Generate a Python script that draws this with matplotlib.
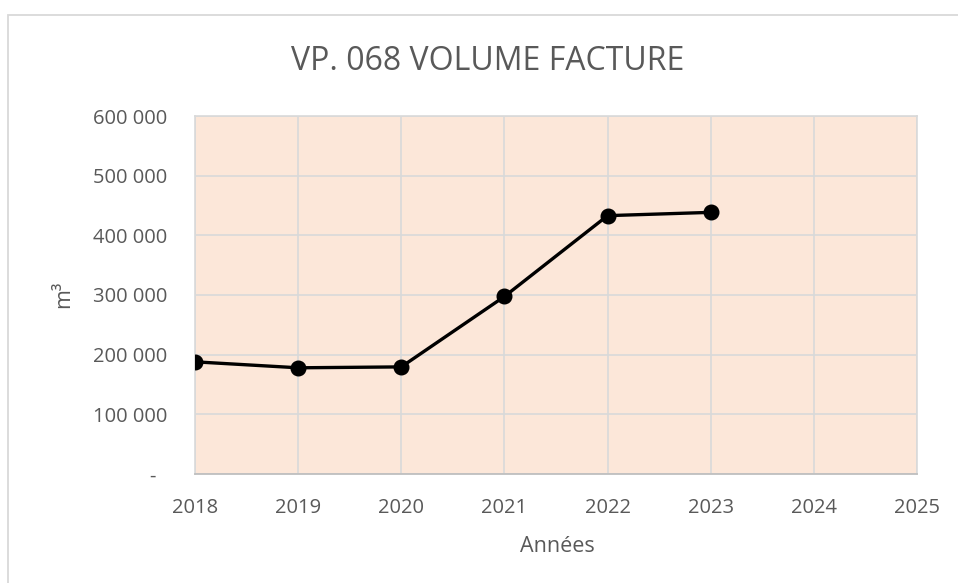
import matplotlib
matplotlib.use("Agg")
import matplotlib.pyplot as plt
from matplotlib.patches import Rectangle
from matplotlib.ticker import FuncFormatter, MultipleLocator
from matplotlib.transforms import ScaledTranslation

annees = [2018, 2019, 2020, 2021, 2022, 2023]
volumes = [188000, 178000, 179500, 297500, 433000, 438500]
x_ticks = [2018, 2019, 2020, 2021, 2022, 2023, 2024, 2025]

plt.rcParams['font.family'] = ['Open Sans', 'DejaVu Sans']
gris_texte = '#595959'
gris_grille = '#D9D9D9'

fig = plt.figure(figsize=(9.58, 5.83), dpi=100)
W, H = 958, 583

# cadre du graphique (coupé à droite et en bas)
fig.patches.append(Rectangle((8 / W, -0.1), 1.2, 1 - 15 / H + 0.1,
                             transform=fig.transFigure, fill=False,
                             edgecolor=gris_grille, linewidth=1.3))

ax = fig.add_axes([195 / W, 1 - 474 / H, (917 - 195) / W, (474 - 116) / H])
ax.set_facecolor('#FCE7D9')

ax.plot(annees, volumes, color='black', linewidth=2.4, marker='o',
        markersize=10.5, zorder=3)

ax.set_xlim(2018, 2025)
ax.set_ylim(0, 600000)
ax.set_xticks(x_ticks)
ax.yaxis.set_major_locator(MultipleLocator(100000))


def format_m3(v, pos):
    if v == 0:
        return '-'
    return f'{int(v):,}'.replace(',', ' ')


ax.yaxis.set_major_formatter(FuncFormatter(format_m3))
ax.grid(True, color=gris_grille, linewidth=1.2)
ax.set_axisbelow(True)

for s in ['top', 'right', 'left']:
    ax.spines[s].set_color(gris_grille)
    ax.spines[s].set_linewidth(1.2)
ax.spines['bottom'].set_color('#BFBFBF')
ax.spines['bottom'].set_linewidth(1.3)

ax.tick_params(axis='both', length=0, labelsize=14.5, colors=gris_texte)
ax.tick_params(axis='x', pad=17)
ax.tick_params(axis='y', pad=20)

fig.canvas.draw()
for lab in ax.get_yticklabels():
    if lab.get_text() == '-':
        lab.set_transform(lab.get_transform() +
                          ScaledTranslation(-0.12, 0, fig.dpi_scale_trans))

fig.text(488 / W, 1 - 61 / H, 'VP. 068 VOLUME FACTURE', ha='center',
         va='center', fontsize=23, color=gris_texte)
fig.text(64 / W, 1 - 294 / H, 'm³', ha='center', va='center',
         rotation=90, fontsize=15.5, color=gris_texte)
fig.text(557 / W, 1 - 547 / H, 'Années', ha='center', va='center',
         fontsize=15.5, color=gris_texte)

fig.savefig('out.png', dpi=100)
